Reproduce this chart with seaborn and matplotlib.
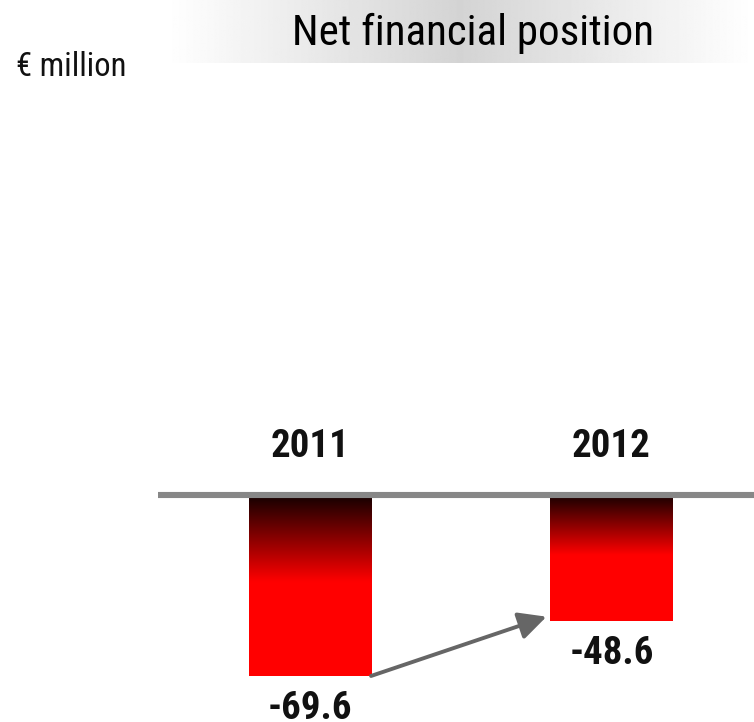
import numpy as np
import pandas as pd
import matplotlib
matplotlib.use("Agg")
import matplotlib.pyplot as plt
import seaborn as sns
from matplotlib import font_manager
from matplotlib.colors import LinearSegmentedColormap

# --- data -------------------------------------------------------------
years = ["2011", "2012"]
net_position = [-69.6, -48.6]          # € million
title_text = "Net financial position"
unit_text = "€ million"

# --- style ------------------------------------------------------------
sns.set_theme(style="white")
installed = {f.name for f in font_manager.fontManager.ttflist}
narrow = next((f for f in ["Liberation Sans Narrow", "Roboto Condensed",
                           "Liberation Sans"] if f in installed), "DejaVu Sans")
plt.rcParams["font.family"] = [narrow, "DejaVu Sans"]

W, H = 754, 722
fig = plt.figure(figsize=(W / 100, H / 100), dpi=100)
fig.patch.set_facecolor("white")


def px_box(left, top, right, bottom):
    """Axes rectangle from pixel edges measured from the top-left corner."""
    return [left / W, 1 - bottom / H, (right - left) / W, (bottom - top) / H]


# --- title banner with a soft grey gradient -------------------------------
banner = fig.add_axes(px_box(166, 0, 754, 63))
t = np.linspace(0, 1, 512)
shade = 1 - 0.17 * (1 - np.abs(2 * t - 1))
banner.imshow(np.tile(shade, (2, 1)), cmap="gray", vmin=0, vmax=1,
              aspect="auto", extent=(0, 1, 0, 1))
banner.set_axis_off()

fig.text(473.5 / W, 1 - 44.5 / H, title_text, ha="center", va="baseline",
         fontsize=31, color="black")
fig.text(16 / W, 1 - 76 / H, unit_text, ha="left", va="baseline",
         fontsize=23.5, color="#111111")

# --- bar chart -------------------------------------------------------------
ax = fig.add_axes(px_box(158, 80, 754, 722))
df = pd.DataFrame({"year": years, "value": net_position})
bar_w = 0.405
sns.barplot(data=df, x="year", y="value", color="red", saturation=1,
            width=bar_w, ax=ax, zorder=2)

# dark-to-red vertical gradient inside every bar
cmap = LinearSegmentedColormap.from_list(
    "nfp", [(0.0, "#140000"), (0.48, "#ff0000"), (1.0, "#ff0000")])
grad = np.linspace(0, 1, 256).reshape(-1, 1)
for p in list(ax.patches):
    x0, w = p.get_x(), p.get_width()
    y0, h = p.get_y(), p.get_height()
    top, bottom = max(y0, y0 + h), min(y0, y0 + h)
    im = ax.imshow(grad, cmap=cmap, vmin=0, vmax=1, origin="upper",
                   aspect="auto", extent=(x0, x0 + w, bottom, top),
                   zorder=3, interpolation="bilinear")
    im.set_clip_path(p)

# zero line
ax.axhline(0, color="#878787", lw=4.4, zorder=5)

# year labels above the line, values under the bars
for i, (yr, v) in enumerate(zip(years, net_position)):
    ax.text(i, 14.6, yr, ha="center", va="baseline", fontsize=28,
            fontweight="bold", color="#111111")
    ax.text(i, v - 16.4, f"{v:.1f}", ha="center", va="baseline",
            fontsize=28, fontweight="bold", color="#111111")

# change arrow from the 2011 bar to the 2012 bar
ax.annotate("", xy=(1 - bar_w / 2 - 0.013, net_position[1] + 1.8),
            xytext=(bar_w / 2, net_position[0]),
            arrowprops=dict(arrowstyle="-|>,head_length=0.7,head_width=0.35",
                            color="#666666", lw=2.8, shrinkA=0, shrinkB=0,
                            mutation_scale=24),
            zorder=6)

ax.set_xlim(-0.504, 1.4726)
ax.set_ylim(-87.3, 159.6)
ax.set_axis_off()

fig.savefig("out.png", dpi=100, facecolor="white")
